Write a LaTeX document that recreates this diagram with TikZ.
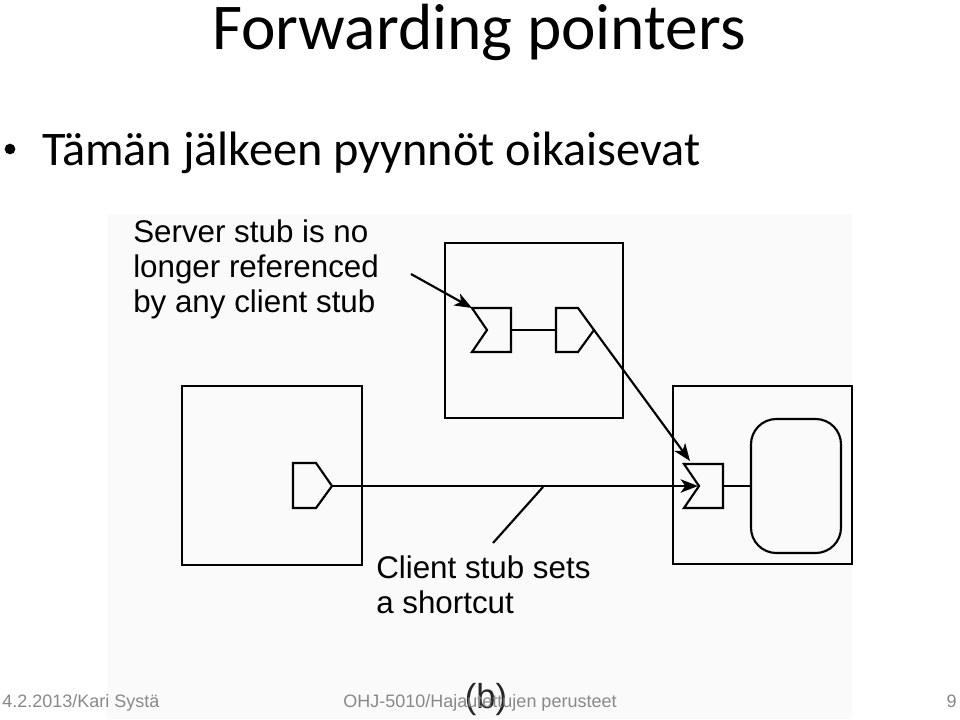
\documentclass[tikz,border=0pt]{standalone}
\usepackage{fontspec}
\setmainfont{Carlito}
\newfontfamily\arialf{Liberation Sans}
\usetikzlibrary{arrows.meta}
\definecolor{footgray}{HTML}{898989}
\definecolor{figbg}{HTML}{FAFAFA}
\begin{document}
\begin{tikzpicture}[x=0.75pt,y=-0.75pt,
  line/.style={line width=1.6pt, black, line join=miter},
  arr/.style={line, -{Stealth[length=13pt,width=10pt,inset=3.5pt]}},
  lbl/.style={font=\arialf\fontsize{23.5}{26}\selectfont, align=left, anchor=north west, inner sep=0pt},
  foot/.style={font=\arialf\fontsize{13.5}{15}\selectfont, text=footgray, inner sep=0pt, anchor=base},
]
\useasboundingbox (0,0) rectangle (960,719);
\fill[white] (0,0) rectangle (960,719);
\fill[figbg] (107,214) rectangle (852,719);

% title and bullet
\node[anchor=base, inner sep=0pt, font=\fontsize{49}{54}\selectfont] (title) at (479,49) {Forwarding pointers};
\fill (10,149) circle[radius=4pt];
\node[anchor=base west, inner sep=0pt, font=\fontsize{36.2}{40}\selectfont] (bullet) at (42,165) {Tämän jälkeen pyynnöt oikaisevat};

% process boxes
\draw[line] (445,243) rectangle (623,418);
\draw[line] (182,386) rectangle (362,565);
\draw[line] (673,386) rectangle (852,564);

% top box stubs
\draw[line] (472,308) -- (511,308) -- (511,352) -- (472,352) -- (487,330) -- cycle;
\coordinate (ssCorner) at (472,308);
\coordinate (ssOut) at (511,330);
\draw[line] (556,308) -- (578,308) -- (594,330) -- (578,352) -- (556,352) -- cycle;
\coordinate (csTopIn) at (556,330);
\coordinate (csTopTip) at (594,330);
\draw[line] (ssOut) -- (csTopIn);

% right box: skeleton and object
\draw[line] (684,464) -- (723,464) -- (723,508) -- (684,508) -- (699,486) -- cycle;
\coordinate (skNotch) at (698,486);
\coordinate (skCorner) at (690,461);
\coordinate (skOut) at (723,486);
\draw[line, rounded corners=19pt] (751,419) rectangle (841,553);
\coordinate (objIn) at (751,486);
\draw[line] (skOut) -- (objIn);

% left box client stub
\draw[line] (293,463) -- (316,463) -- (332,486) -- (316,508) -- (293,508) -- cycle;
\coordinate (csLeftTip) at (332,486);

% connectors
\draw[arr] (csLeftTip) -- (skNotch);
\draw[arr] (csTopTip) -- (skCorner);

% labels
\node[lbl] (lblServer) at (133,220) {Server stub is no\\longer referenced\\by any client stub};
\coordinate (lblServerEnd) at (411,274);
\draw[arr] (lblServerEnd) -- (ssCorner);

\node[lbl] (lblClient) at (376,556) {Client stub sets\\a shortcut};
\coordinate (shortcutPt) at (543,487);
\coordinate (lblClientTop) at (493,543);
\draw[line] (shortcutPt) -- (lblClientTop);

\node[font=\arialf\fontsize{26}{28}\selectfont, inner sep=0pt, anchor=base, text=black!85] (bLabel) at (486,708) {(b)};

% footer
\node[foot, anchor=base west] (fDate) at (2,707) {4.2.2013/Kari Systä};
\node[foot] (fCourse) at (480,707) {OHJ-5010/Hajautettujen perusteet};
\node[foot, anchor=base east] (fPage) at (957,707) {9};
\end{tikzpicture}
\end{document}
